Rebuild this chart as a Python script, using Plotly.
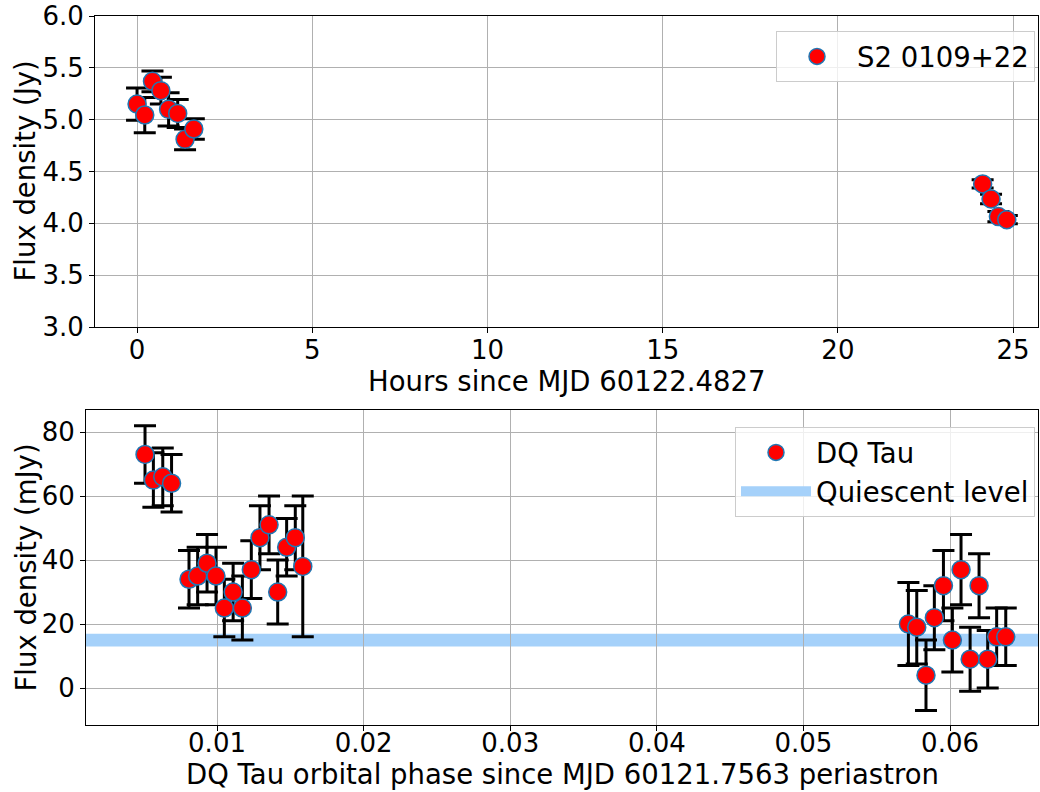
import plotly.graph_objects as go

# ---- data: top panel (S2 0109+22) ----
s2_hours = [0.0, 0.22, 0.44, 0.68, 0.90, 1.16, 1.37, 1.62, 24.13, 24.37, 24.58, 24.82]
s2_flux = [5.15, 5.045, 5.37, 5.28, 5.10, 5.06, 4.81, 4.91, 4.38, 4.235, 4.065, 4.035]
s2_err = [0.155, 0.17, 0.10, 0.13, 0.16, 0.135, 0.10, 0.10, 0.04, 0.045, 0.05, 0.04]

# ---- data: bottom panel (DQ Tau) ----
dq_phase = [0.00509, 0.00566, 0.00630, 0.00690, 0.00809, 0.00868, 0.00932, 0.00993,
            0.01050, 0.01110, 0.01173, 0.01234, 0.01293, 0.01355, 0.01414, 0.01475,
            0.01534, 0.01585, 0.05716, 0.05773, 0.05836, 0.05893, 0.05955, 0.06016,
            0.06075, 0.06137, 0.06198, 0.06257, 0.06318, 0.06380]
dq_flux = [73, 65, 66, 64, 34, 35, 39, 35, 25, 30, 25, 37, 47, 51, 30, 44, 47, 38,
           20, 19, 4, 22, 32, 15, 37, 9, 32, 9, 16, 16]
dq_err = [9, 8.5, 9, 9, 9, 9, 9, 9, 9, 9, 10, 9, 10, 9, 10, 9, 10, 22,
          13, 11.5, 11, 10, 11, 10, 11, 10, 10, 9, 9, 9]
quiescent_low = 13
quiescent_high = 17

top_xticks = [0, 5, 10, 15, 20, 25]
top_yticks = [3.0, 3.5, 4.0, 4.5, 5.0, 5.5, 6.0]
bot_xticks = [0.01, 0.02, 0.03, 0.04, 0.05, 0.06]
bot_yticks = [0, 20, 40, 60, 80]

W, H = 1040, 792
FONT = "DejaVu Sans"
FS = 27.5    # axis titles / legend
TFS = 26     # tick labels
band_color = "rgb(165,209,250)"

def px_x(p):
    return p / W

def px_y(p):
    return 1 - p / H

fig = go.Figure()

marker = dict(color="red", size=18, line=dict(color="#1f77b4", width=1.5))

fig.add_trace(go.Scatter(
    x=s2_hours, y=s2_flux, mode="markers", name="S2 0109+22",
    marker=marker,
    error_y=dict(type="data", array=s2_err, color="black", thickness=3, width=11),
    xaxis="x", yaxis="y", legend="legend",
))

fig.add_trace(go.Scatter(
    x=[None], y=[None], mode="lines", name="Quiescent level",
    line=dict(color=band_color, width=20),
    xaxis="x2", yaxis="y2", legend="legend2", legendrank=2,
))

fig.add_trace(go.Scatter(
    x=dq_phase, y=dq_flux, mode="markers", name="DQ Tau",
    marker=marker,
    error_y=dict(type="data", array=dq_err, color="black", thickness=3, width=11),
    xaxis="x2", yaxis="y2", legend="legend2", legendrank=1,
))

fig.add_shape(type="rect", xref="x2 domain", yref="y2", x0=0, x1=1,
              y0=quiescent_low, y1=quiescent_high,
              fillcolor=band_color, line=dict(width=0), layer="below")

axis_common = dict(
    showline=True, mirror=True, linecolor="black", linewidth=1,
    showgrid=True, gridcolor="#b0b0b0", gridwidth=1,
    ticks="outside", ticklen=5, tickwidth=1, tickcolor="black",
    zeroline=False, automargin=False, ticklabeloverflow="allow",
    tickfont=dict(family=FONT, size=TFS, color="black"),
)

L1, R1, T1, B1 = 95, 1038, 16, 327
L2, R2, T2, B2 = 86, 1038, 410, 725

legend_common = dict(
    xanchor="right", yanchor="top",
    bgcolor="rgba(255,255,255,0.8)", bordercolor="#cccccc", borderwidth=1,
    font=dict(family=FONT, size=FS), itemwidth=70,
)

fig.update_layout(
    width=W, height=H,
    margin=dict(l=0, r=0, t=0, b=0),
    paper_bgcolor="white", plot_bgcolor="white",
    font=dict(family=FONT, size=FS, color="black"),
    xaxis=dict(domain=[px_x(L1), px_x(R1)], range=[-1.2, 25.71], anchor="y",
               tickvals=top_xticks, ticktext=[str(v) for v in top_xticks],
               ticklabelstandoff=-5, **axis_common),
    yaxis=dict(domain=[px_y(B1), px_y(T1)], range=[3.0, 6.0], anchor="x",
               tickvals=top_yticks, ticktext=[f"{v:.1f}" for v in top_yticks], **axis_common),
    xaxis2=dict(domain=[px_x(L2), px_x(R2)], range=[0.001064, 0.066], anchor="y2",
                tickvals=bot_xticks, ticktext=[f"{v:.2f}" for v in bot_xticks],
                ticklabelstandoff=-10, **axis_common),
    yaxis2=dict(domain=[px_y(B2), px_y(T2)], range=[-11.56, 86.9], anchor="x2",
                tickvals=bot_yticks, ticktext=[str(v) for v in bot_yticks], **axis_common),
    legend=dict(x=px_x(1035), y=px_y(31), **legend_common),
    legend2=dict(x=px_x(1035), y=px_y(427), traceorder="normal", **legend_common),
    showlegend=True,
)

def label(text, x, y, angle=0, yanchor="middle"):
    fig.add_annotation(text=text, x=px_x(x), y=px_y(y), xref="paper", yref="paper",
                       showarrow=False, textangle=angle, xanchor="center", yanchor=yanchor,
                       font=dict(family=FONT, size=FS, color="black"))

label("Hours since MJD 60122.4827", (L1 + R1) / 2, 381)
label("Flux density (Jy)", 25, (T1 + B1) / 2, -90)
label("DQ Tau orbital phase since MJD 60121.7563 periastron", (L2 + R2) / 2, 792,
      yanchor="bottom")
label("Flux density (mJy)", 25, (T2 + B2) / 2, -90)

fig.write_html("out.html")
